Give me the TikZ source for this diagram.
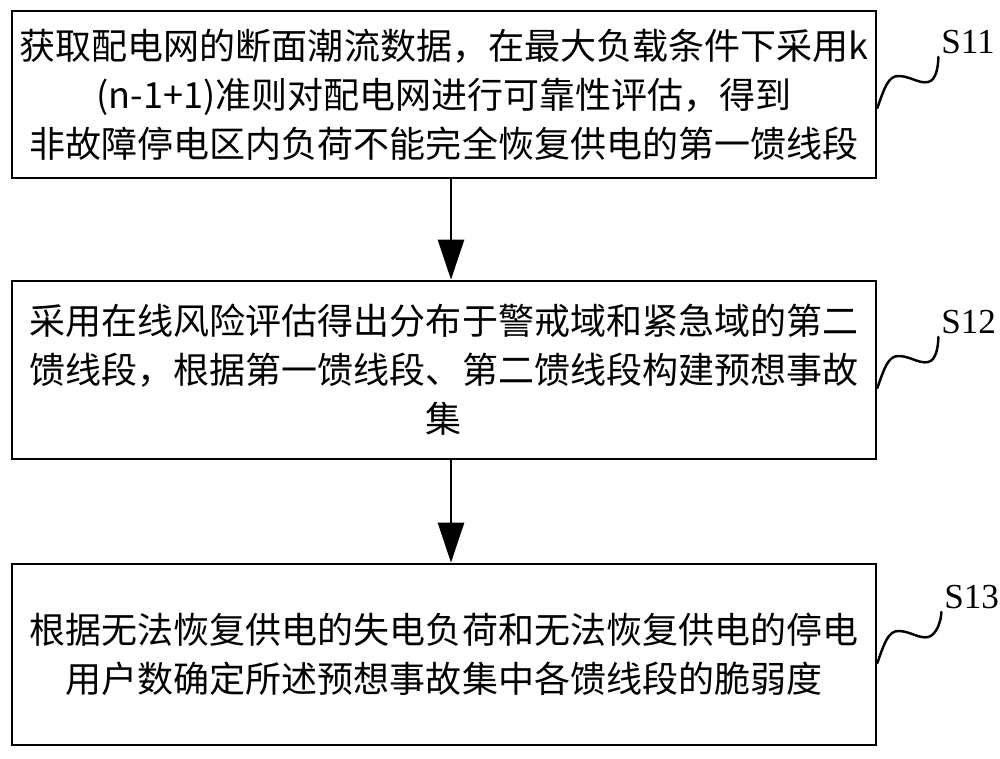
\documentclass[tikz,border=0pt]{standalone}
\usepackage{fontspec}
\setmainfont{Liberation Serif}
\newfontfamily\cjk{Noto Sans CJK SC}
\usetikzlibrary{arrows.meta}

\begin{document}
\begin{tikzpicture}[x=0.02cm,y=-0.02cm,
    stepbox/.style={draw,line width=1.6pt,minimum width=17.28cm,align=center,inner sep=0pt,
        font=\cjk\fontsize{20.5}{27.9}\selectfont},
    flow/.style={line width=1.6pt,-{Triangle[length=0.8cm,width=0.52cm]}},
    squig/.style={line width=1.4pt,line cap=round}]
            \useasboundingbox (0,0) rectangle (1000,759);
            \node[stepbox,minimum height=3.34cm] (box1) at (444,94.5) {获取配电网的断面潮流数据，在最大负载条件下采用k\\(n-1+1)准则对配电网进行可靠性评估，得到\\非故障停电区内负荷不能完全恢复供电的第一馈线段};
            \node[stepbox,minimum height=3.56cm] (box2) at (444,370) {采用在线风险评估得出分布于警戒域和紧急域的第二\\馈线段，根据第一馈线段、第二馈线段构建预想事故\\集};
            \node[stepbox,minimum height=3.62cm] (box3) at (444,654.5) {根据无法恢复供电的失电负荷和无法恢复供电的停电\\用户数确定所述预想事故集中各馈线段的脆弱度};
            \coordinate (mid) at (451,0);
            \draw[flow] (box1.south -| mid) -- (box2.north -| mid);
            \draw[flow] (box2.south -| mid) -- (box3.north -| mid);
            % step labels
            \draw[squig] (box1.east |- 0,108) .. controls +(7,-20) and +(-10,0) .. ++(21,-32) .. controls +(12,0) and +(-10,2) .. ++(30,6) .. controls +(8,-2) and +(0,9) .. ++(10,-25) node[anchor=south west,inner sep=1pt,font=\fontsize{20}{24}\selectfont] (s11) {S11};
            \draw[squig] (box2.east |- 0,388) .. controls +(7,-20) and +(-10,0) .. ++(21,-32) .. controls +(12,0) and +(-10,2) .. ++(30,6) .. controls +(8,-2) and +(0,9) .. ++(10,-25) node[anchor=south west,inner sep=1pt,font=\fontsize{20}{24}\selectfont] (s12) {S12};
            \draw[squig] (box3.east |- 0,663) .. controls +(7,-20) and +(-10,0) .. ++(21,-32) .. controls +(12,0) and +(-10,2) .. ++(30,6) .. controls +(8,-2) and +(0,9) .. ++(13,-25) node[anchor=south west,inner sep=1pt,font=\fontsize{20}{24}\selectfont] (s13) {S13};
        \end{tikzpicture}
\end{document}
